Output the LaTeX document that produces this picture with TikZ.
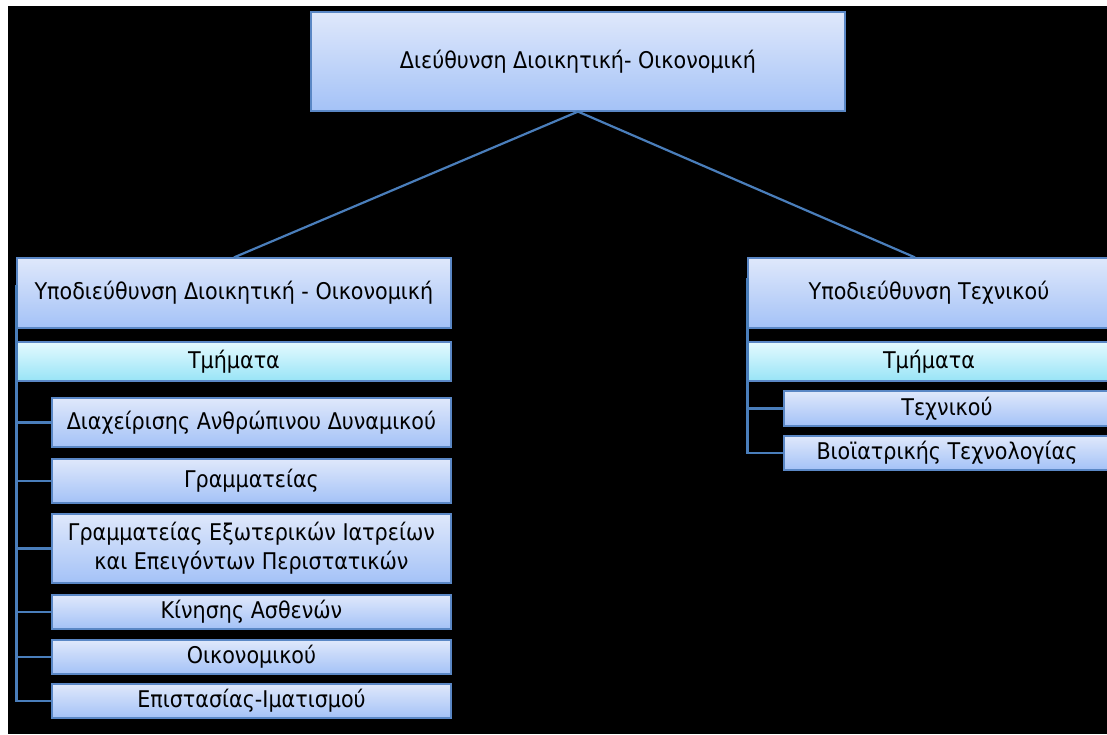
\documentclass[tikz,border=0pt]{standalone}
\usepackage{fontspec}
\setmainfont{DejaVu Sans Condensed}
\definecolor{boxline}{HTML}{5A87C5}
\definecolor{linkcol}{HTML}{4A7EBB}
\definecolor{unittop}{HTML}{DFE8FB}
\definecolor{unitbot}{HTML}{A4C2F7}
\definecolor{tmtop}{HTML}{E4FAFF}
\definecolor{tmbot}{HTML}{98E4F6}

\begin{document}
\begin{tikzpicture}[x=1pt,y=-1pt]
\tikzstyle{unit}=[rectangle,draw=boxline,line width=1.2pt,top color=unittop,bottom color=unitbot,inner sep=0pt,align=center,font=\fontsize{23}{29}\selectfont]
\tikzstyle{tmhead}=[unit,top color=tmtop,bottom color=tmbot]
\tikzstyle{link}=[draw=linkcol,line width=2.2pt]
\clip (0,0) rectangle (1107,734);
\fill[black] (8,6) rectangle (1107,734);

\node[unit,minimum width=534,minimum height=99](dir) at (578,61.5) {Διεύθυνση Διοικητική- Οικονομική};

\node[unit,minimum width=434,minimum height=70](lhead) at (234,293) {Υποδιεύθυνση Διοικητική - Οικονομική};
\node[tmhead,minimum width=434,minimum height=39](ltm) at (234,361.5) {Τμήματα};
\node[unit,minimum width=399,minimum height=49](l1) at (251.5,422.5) {Διαχείρισης Ανθρώπινου Δυναμικού};
\node[unit,minimum width=399,minimum height=44](l2) at (251.5,481) {Γραμματείας};
\node[unit,minimum width=399,minimum height=69](l3) at (251.5,548.5) {Γραμματείας Εξωτερικών Ιατρείων\\και Επειγόντων Περιστατικών};
\node[unit,minimum width=399,minimum height=34](l4) at (251.5,612) {Κίνησης Ασθενών};
\node[unit,minimum width=399,minimum height=34](l5) at (251.5,657) {Οικονομικού};
\node[unit,minimum width=399,minimum height=34](l6) at (251.5,701) {Επιστασίας-Ιματισμού};

\node[unit,minimum width=362,minimum height=70](rhead) at (929,293) {Υποδιεύθυνση Τεχνικού};
\node[tmhead,minimum width=362,minimum height=39](rtm) at (929,361.5) {Τμήματα};
\node[unit,minimum width=326,minimum height=35](r1) at (947,408.5) {Τεχνικού};
\node[unit,minimum width=326,minimum height=34](r2) at (947,453) {Βιοϊατρικής Τεχνολογίας};

\draw[link] (dir.south) -- (lhead.north);
\draw[link] (dir.south) -- ([xshift=-14pt]rhead.north);

\draw[link] ([yshift=8pt]lhead.west) |- (l6.west);
\draw[link] (lhead.west |- l1.west) -- (l1.west);
\draw[link] (lhead.west |- l2.west) -- (l2.west);
\draw[link] (lhead.west |- l3.west) -- (l3.west);
\draw[link] (lhead.west |- l4.west) -- (l4.west);
\draw[link] (lhead.west |- l5.west) -- (l5.west);

\draw[link] ([yshift=15pt]rhead.west) |- (r2.west);
\draw[link] (rhead.west |- r1.west) -- (r1.west);
\end{tikzpicture}
\end{document}
